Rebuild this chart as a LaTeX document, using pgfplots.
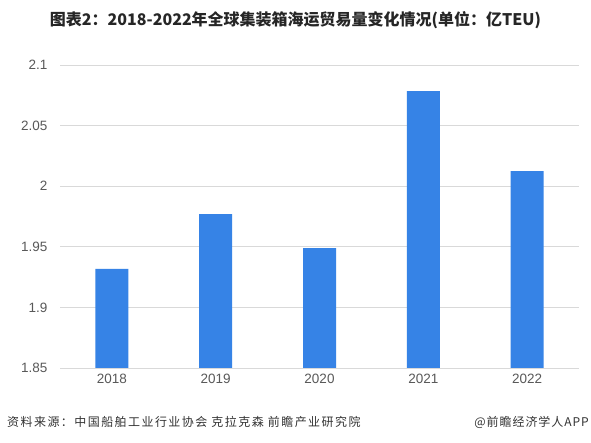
\documentclass[border=0pt]{standalone}
\usepackage{fontspec}
\setmainfont{Liberation Sans}
\newfontfamily\cjk{Noto Sans CJK SC}
\usepackage{pgfplots}
\pgfplotsset{compat=1.18}
\definecolor{barblue}{HTML}{3683E6}
\definecolor{gridgray}{HTML}{D9D9D9}
\definecolor{ticktext}{HTML}{595959}
\definecolor{titletext}{HTML}{262626}
\definecolor{foottext}{HTML}{333333}
\begin{document}
\begin{tikzpicture}[x=1pt,y=1pt]
\fill[white] (0,0) rectangle (591,443);
\begin{axis}[
  at={(60pt,75pt)}, anchor=south west, scale only axis,
  width=519pt, height=303pt,
  xmin=-0.5, xmax=4.5, ymin=1.85, ymax=2.1,
  xtick=data, xticklabels={2018,2019,2020,2021,2022},
  ytick={1.85,1.9,1.95,2,2.05,2.1},
  yticklabels={1.85,1.9,1.95,2,2.05,2.1},
  ymajorgrids, grid style={gridgray, line width=0.8pt},
  axis line style={draw=none},
  major tick length=0pt,
  /pgf/number format/assume math mode=true,
  tick label style={font=\fontsize{13.5}{15}\selectfont, text=ticktext},
  yticklabel style={xshift=-9pt},
  xticklabel style={yshift=-3pt},
  clip=false,
]
\addplot[ybar, bar width=33pt, fill=barblue, draw=none] coordinates {(0,1.9317) (1,1.977) (2,1.949) (3,2.0785) (4,2.0125)};
\end{axis}
\node[font=\cjk\bfseries\fontsize{16}{18}\selectfont, text=titletext] at (295.5,423) {图表2：2018-2022年全球集装箱海运贸易量变化情况(单位：亿TEU)};
\node[anchor=west, inner sep=0pt, font=\cjk\addfontfeature{LetterSpace=12}\fontsize{12}{14}\selectfont, text=foottext] at (7,21) {资料来源：中国船舶工业行业协会 克拉克森 前瞻产业研究院};
\node[anchor=east, inner sep=0pt, font=\cjk\addfontfeature{LetterSpace=8}\fontsize{12}{14}\selectfont, text=foottext] at (589,21) {@前瞻经济学人APP};
\end{tikzpicture}
\end{document}
